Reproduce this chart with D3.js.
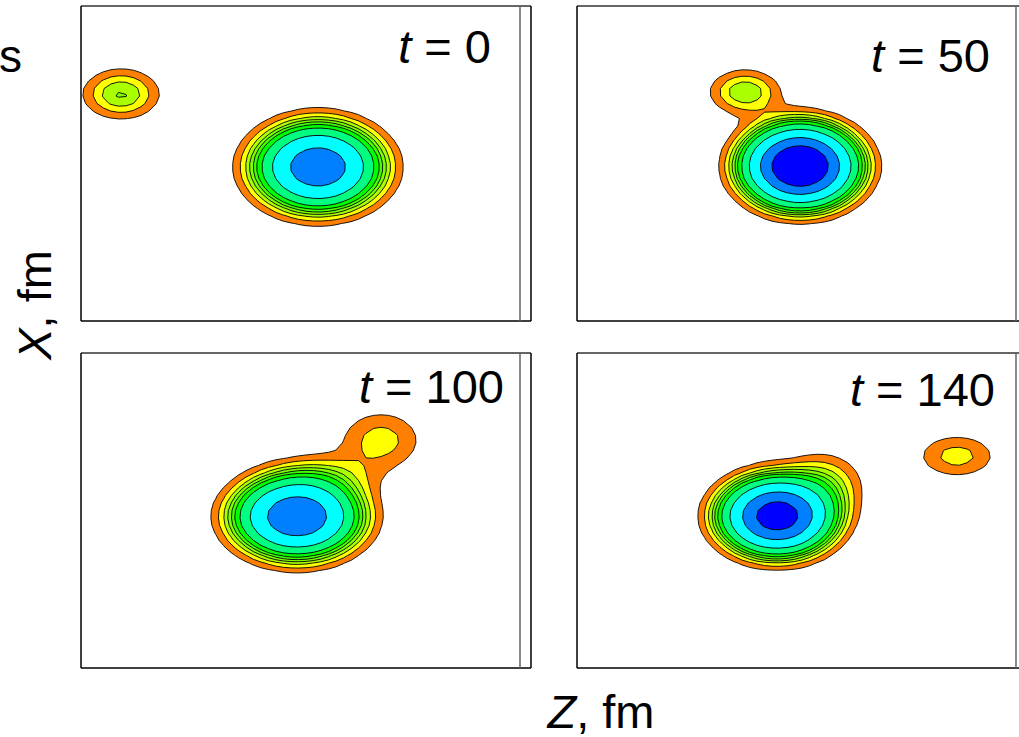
<!DOCTYPE html>
<html>
<head>
<meta charset="utf-8">
<script src="https://cdn.jsdelivr.net/npm/d3@7"></script>
<style>
  body { margin: 0; background: #fff; }
  text { font-family: "Liberation Sans", Arial, sans-serif; fill: #000; }
</style>
</head>
<body>
<div id="chart"></div>
<script>
// time of each snapshot
var times = [0, 50, 100, 140];

// density blobs per snapshot: [Z, X, sigmaZ, sigmaX, amplitude] (fm)
var blobsT0   = [[0.8, -0.23, 2.27, 1.57, 1.0], [-12.33, 4.63, 1.67, 1.09, 0.14]];
var blobsT50  = [[-0.13, -0.17, 2.0, 1.43, 1.72], [-3.8, 4.77, 1.55, 0.97, 0.135]];
var blobsT100 = [[-0.6, -0.4, 2.27, 1.48, 1.05], [5.0, 4.7, 1.95, 1.4, 0.09], [1.6, 2.3, 2.2, 1.0, 0.06]];
var blobsT140 = [[-1.67, -0.37, 2.0, 1.37, 1.39], [10.33, 3.63, 1.86, 1.03, 0.09], [1.5, 1.8, 1.7, 1.4, 0.1]];
var allBlobs = [blobsT0, blobsT50, blobsT100, blobsT140];

// contour levels and fill colours
var levels = [0.044, 0.075, 0.105, 0.135, 0.165, 0.2, 0.26, 0.41, 0.72, 1.1];
var colors = ["#ff8000", "#ffff00", "#aaff00", "#80ff00", "#40ff00", "#00ff00", "#00ff80", "#00ffff", "#0080ff", "#0000ff"];

var W = 1019, H = 737;
var pw = 450, ph = 315;
// panel placement and label anchor (right end, baseline)
var panels = [
  {x: 81,  y: 6,   lx: 491, ly: 63},
  {x: 577, y: 6,   lx: 990, ly: 72},
  {x: 81,  y: 353, lx: 504, ly: 403},
  {x: 577, y: 353, lx: 995, ly: 406}
];

var svg = d3.select("#chart").append("svg")
  .attr("width", W)
  .attr("height", H);

var zScale = d3.scaleLinear().domain([-15, 15]).range([0, pw]);
var xScale = d3.scaleLinear().domain([10.5, -10.5]).range([0, ph]);

var step = 0.5, nz = 61, nx = 43;
// grid coordinate -> fm
var gz = d3.scaleLinear().domain([0.5, nz - 0.5]).range([-15, 15]);
var gx = d3.scaleLinear().domain([0.5, nx - 0.5]).range([10.5, -10.5]);

var path = d3.geoPath(d3.geoTransform({
  point: function(px, py) { this.stream.point(zScale(gz(px)), xScale(gx(py))); }
}));

svg.append("defs").append("clipPath").attr("id", "clip")
  .append("rect").attr("width", pw - 11).attr("height", ph);

panels.forEach(function(p, k) {
  var blobs = allBlobs[k];
  var values = new Array(nz * nx);
  for (var j = 0; j < nx; j++) {
    var xv = 10.5 - j * step;
    for (var i = 0; i < nz; i++) {
      var zv = -15 + i * step, s = 0;
      blobs.forEach(function(b) {
        var dz = (zv - b[0]) / b[2], dx = (xv - b[1]) / b[3];
        s += b[4] * Math.exp(-(dz * dz + dx * dx) / 2);
      });
      values[j * nz + i] = s;
    }
  }

  var g = svg.append("g").attr("transform", "translate(" + p.x + "," + p.y + ")");

  var contours = d3.contours().size([nz, nx]).thresholds(levels)(values);

  g.append("g").attr("clip-path", "url(#clip)")
    .selectAll("path")
    .data(contours)
    .enter().append("path")
    .attr("d", path)
    .attr("fill", function(d, i) { return colors[i]; })
    .attr("stroke", "#000")
    .attr("stroke-width", 0.9)
    .attr("stroke-linejoin", "round");

  // frame
  g.append("line").attr("x1", 0).attr("x2", pw).attr("y1", 0).attr("y2", 0)
    .attr("stroke", "#666").attr("stroke-width", 2);
  g.append("line").attr("x1", 0).attr("x2", 0).attr("y1", 0).attr("y2", ph)
    .attr("stroke", "#000").attr("stroke-width", 1.5);
  g.append("line").attr("x1", 0).attr("x2", pw).attr("y1", ph).attr("y2", ph)
    .attr("stroke", "#000").attr("stroke-width", 1.5);
  g.append("line").attr("x1", pw - 11).attr("x2", pw - 11).attr("y1", 0).attr("y2", ph)
    .attr("stroke", "#666").attr("stroke-width", 1.5);
  g.append("line").attr("x1", pw).attr("x2", pw).attr("y1", 0).attr("y2", ph)
    .attr("stroke", "#000").attr("stroke-width", 1.5);

  var lab = svg.append("text")
    .attr("x", p.lx)
    .attr("y", p.ly)
    .attr("text-anchor", "end")
    .style("font-size", "47px");
  lab.append("tspan").style("font-style", "italic").text("t");
  lab.append("tspan").text(" = " + times[k]);
});

svg.append("text")
  .attr("x", -1)
  .attr("y", 72)
  .style("font-size", "46px")
  .text("s");

var xl = svg.append("text")
  .attr("transform", "translate(51,305) rotate(-90)")
  .attr("text-anchor", "middle")
  .style("font-size", "47px");
xl.append("tspan").style("font-style", "italic").text("X");
xl.append("tspan").text(", fm");

var zl = svg.append("text")
  .attr("x", 601)
  .attr("y", 728)
  .attr("text-anchor", "middle")
  .style("font-size", "47px");
zl.append("tspan").style("font-style", "italic").text("Z");
zl.append("tspan").text(", fm");
</script>
</body>
</html>
